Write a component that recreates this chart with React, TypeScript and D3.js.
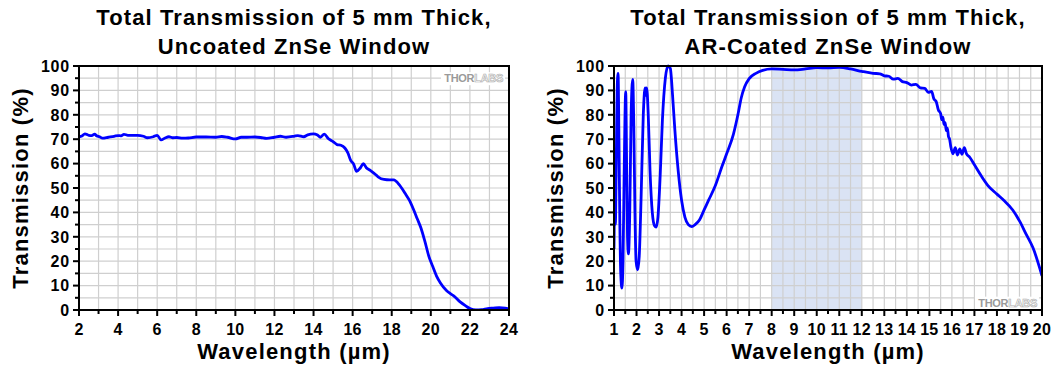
import React from 'react';
import * as d3 from 'd3';

// uncoated window
const uncoatedWavelength = [2, 2.15, 2.3, 2.5, 2.65, 2.8, 2.9, 3.05, 3.2, 3.5, 3.8, 4.0, 4.15, 4.3, 4.5, 5.0, 5.3, 5.5, 5.8, 6.0, 6.2, 6.4, 6.6, 6.8, 7.0, 7.3, 7.6, 8.0, 8.5, 9.0, 9.3, 9.6, 10.0, 10.3, 10.6, 11.0, 11.3, 11.6, 12.0, 12.3, 12.6, 13.0, 13.2, 13.5, 13.7, 14.0, 14.2, 14.35, 14.55, 14.75, 15.0, 15.2, 15.4, 15.6, 15.75, 15.9, 16.05, 16.2, 16.4, 16.55, 16.7, 16.9, 17.1, 17.3, 17.6, 17.9, 18.1, 18.4, 18.7, 18.9, 19.1, 19.3, 19.5, 19.7, 19.9, 20.1, 20.3, 20.5, 20.8, 21.0, 21.2, 21.5, 21.8, 22.0, 22.3, 22.6, 22.9, 23.2, 23.5, 23.8, 24];
const uncoatedTransmission = [71.0, 71.3, 72.2, 71.6, 71.5, 72.1, 71.4, 71.0, 70.4, 70.8, 71.2, 71.5, 71.4, 72.0, 71.6, 71.6, 71.2, 70.6, 71.0, 71.6, 69.7, 70.5, 71.0, 70.6, 70.7, 70.4, 70.5, 70.9, 70.9, 70.8, 71.1, 70.8, 70.1, 70.8, 70.8, 70.9, 70.7, 70.3, 70.8, 71.2, 70.8, 71.2, 71.5, 71.0, 71.8, 72.2, 71.7, 70.8, 72.1, 70.3, 69.0, 67.8, 67.5, 66.4, 64.5, 61.3, 59.8, 56.8, 58.3, 60.0, 58.3, 57.2, 56.0, 54.6, 53.5, 53.3, 53.3, 51.2, 47.6, 45.0, 41.5, 37.5, 33.5, 28.0, 22.0, 17.8, 13.8, 11.0, 8.0, 6.7, 5.6, 3.3, 1.6, 0.6, 0.0, 0.1, 0.6, 0.8, 1.0, 0.8, 0.4];

// AR-coated window
const coatedWavelength = [1.0, 1.03, 1.06, 1.1, 1.14, 1.18, 1.22, 1.26, 1.3, 1.35, 1.4, 1.45, 1.52, 1.56, 1.6, 1.64, 1.7, 1.76, 1.83, 1.88, 1.93, 1.98, 2.05, 2.12, 2.2, 2.3, 2.38, 2.42, 2.45, 2.52, 2.6, 2.7, 2.8, 2.87, 2.95, 3.05, 3.15, 3.28, 3.4, 3.5, 3.6, 3.7, 3.85, 4.0, 4.15, 4.3, 4.45, 4.6, 4.8, 5.0, 5.2, 5.5, 5.8, 6.0, 6.3, 6.5, 6.65, 6.8, 7.0, 7.3, 7.6, 8.0, 8.5, 9.0, 9.5, 10.0, 10.5, 11.0, 11.5, 12.0, 12.5, 12.8, 13.0, 13.2, 13.4, 13.6, 13.8, 14.0, 14.2, 14.4, 14.6, 14.8, 14.95, 15.1, 15.2, 15.3, 15.4, 15.5, 15.55, 15.6, 15.65, 15.7, 15.75, 15.8, 15.85, 15.9, 15.95, 16.05, 16.15, 16.25, 16.35, 16.45, 16.55, 16.65, 16.8, 17.0, 17.3, 17.6, 18.0, 18.3, 18.7, 19.0, 19.3, 19.6, 20.0];
const coatedTransmission = [25, 45, 35, 60, 90, 97, 70, 35, 15, 9, 20, 55, 89.5, 60, 30, 23, 40, 80, 94.5, 75, 40, 20, 16.5, 22, 45, 80, 91, 88, 91, 80, 57, 40, 34.5, 34, 38, 55, 78, 95, 100, 99, 88, 74, 57, 45, 38, 35, 34.2, 35, 37, 41, 45, 51, 59, 64, 72, 80, 87, 91.5, 94.8, 97, 98.2, 98.8, 98.6, 98.4, 98.8, 99.3, 99.2, 99.4, 98.8, 97.8, 97, 96.8, 96, 95.8, 94.6, 94.9, 93.6, 93.2, 92.2, 92.5, 91, 90.8, 89.2, 89.6, 86.5, 85.5, 82, 80.5, 78, 79, 76, 76.8, 73.5, 74.5, 71, 70, 67, 64, 66.5, 63.5, 66, 63.8, 66.5, 64, 62.5, 59.5, 55, 51, 47.5, 45, 41, 36.5, 31, 25.5, 14];

const yTicks = [0, 10, 20, 30, 40, 50, 60, 70, 80, 90, 100];
const uncoatedXTicks = [2, 4, 6, 8, 10, 12, 14, 16, 18, 20, 22, 24];
const coatedXTicks = [1, 2, 3, 4, 5, 6, 7, 8, 9, 10, 11, 12, 13, 14, 15, 16, 17, 18, 19, 20];
const designBand = [8, 12];

const FONT = '"Liberation Sans", Arial, sans-serif';
const TOP = 66;
const BOTTOM = 310;

type ChartProps = {
  id: string;
  left: number;
  right: number;
  title: string[];
  xDomain: [number, number];
  xTicks: number[];
  xMinorStep: number;
  xGridStep: number;
  xs: number[];
  ys: number[];
  band?: number[];
  logo: 'top' | 'bottom';
};

const Chart = ({ id, left, right, title, xDomain, xTicks, xMinorStep, xGridStep, xs, ys, band, logo }: ChartProps) => {
  const x = d3.scaleLinear().domain(xDomain).range([left, right]);
  const y = d3.scaleLinear().domain([0, 100]).range([BOTTOM, TOP]);
  const cx = (left + right) / 2;

  const xGrid = d3.range(xDomain[0], xDomain[1] + 1e-9, xGridStep);
  const xMinor = d3.range(xDomain[0], xDomain[1] + 1e-9, xMinorStep).filter(v => !xTicks.some(t => Math.abs(t - v) < 1e-6));
  const yGrid = d3.range(0, 100.001, 5);
  const yMinor = yGrid.filter(v => v % 10 !== 0);

  const line = d3.line<number>().x((_, i) => x(xs[i])).y(d => y(d)).curve(d3.curveMonotoneX);

  const logoX = logo === 'top' ? right - 6 : right - 5;
  const logoY = logo === 'top' ? y(95) + 4 : y(3) + 4;

  return (
    <g>
      <defs>
        <clipPath id={'clip-' + id}>
          <rect x={left} y={TOP - 2} width={right - left} height={BOTTOM - TOP + 2} />
        </clipPath>
      </defs>
      {title.map((t, i) => (
        <text key={t} x={cx} y={25 + i * 29} textAnchor="middle" fontFamily={FONT} fontWeight="bold" fontSize={22} letterSpacing={1.1}>{t}</text>
      ))}
      {band && (
        <rect x={x(band[0])} y={TOP} width={x(band[1]) - x(band[0])} height={BOTTOM - TOP} fill="#dae3f4" />
      )}
      {xGrid.map(v => (
        <line key={'gx' + v} x1={x(v)} x2={x(v)} y1={TOP} y2={BOTTOM} stroke="#cfcfcf" strokeWidth={1.2} />
      ))}
      {yGrid.map(v => (
        <line key={'gy' + v} x1={left} x2={right} y1={y(v)} y2={y(v)} stroke="#cfcfcf" strokeWidth={1.2} />
      ))}
      <rect x={logoX - 62} y={logoY - 10} width={64} height={13} fill="#fff" />
      <text x={logoX} y={logoY} textAnchor="end" fontFamily={FONT} fontWeight="bold" fontSize={11} letterSpacing={-0.3}>
        <tspan fill="#9a9a9a">THOR</tspan>
        <tspan fill="#fff" stroke="#b0b0b0" strokeWidth={0.7}>LABS</tspan>
      </text>
      <path d={line(ys) || ''} fill="none" stroke="#0000ff" strokeWidth={2.8} strokeLinejoin="round" clipPath={`url(#clip-${id})`} />
      <rect x={left} y={TOP} width={right - left} height={BOTTOM - TOP} fill="none" stroke="#000" strokeWidth={2} />
      {yTicks.map(v => (
        <g key={'yt' + v}>
          <line x1={left - 6} x2={left} y1={y(v)} y2={y(v)} stroke="#000" strokeWidth={2} />
          <text x={left - 9} y={y(v)} dy="0.36em" textAnchor="end" fontFamily={FONT} fontWeight="bold" fontSize={16} letterSpacing={0.8}>{v}</text>
        </g>
      ))}
      {yMinor.map(v => (
        <line key={'ym' + v} x1={left - 4} x2={left} y1={y(v)} y2={y(v)} stroke="#000" strokeWidth={2} />
      ))}
      {xTicks.map(v => (
        <g key={'xt' + v}>
          <line x1={x(v)} x2={x(v)} y1={BOTTOM} y2={BOTTOM + 6} stroke="#000" strokeWidth={2} />
          <text x={x(v)} y={BOTTOM + 25} textAnchor="middle" fontFamily={FONT} fontWeight="bold" fontSize={16} letterSpacing={0.3}>{v}</text>
        </g>
      ))}
      {xMinor.map(v => (
        <line key={'xm' + v} x1={x(v)} x2={x(v)} y1={BOTTOM} y2={BOTTOM + 4} stroke="#000" strokeWidth={2} />
      ))}
      <text x={cx} y={359} textAnchor="middle" fontFamily={FONT} fontWeight="bold" fontSize={22} letterSpacing={1.2}>Wavelength (µm)</text>
      <text transform={`translate(${left - 51},${(TOP + BOTTOM) / 2}) rotate(-90)`} textAnchor="middle" fontFamily={FONT} fontWeight="bold" fontSize={22} letterSpacing={1.2}>Transmission (%)</text>
    </g>
  );
};

export default function App() {
  return (
    <svg width={1064} height={370} style={{ position: 'absolute', left: 0, top: 0, background: '#fff' }}>
      <rect width={1064} height={370} fill="#fff" />
      <Chart
        id="uncoated"
        left={79}
        right={509}
        title={['Total Transmission of 5 mm Thick,', 'Uncoated ZnSe Window']}
        xDomain={[2, 24]}
        xTicks={uncoatedXTicks}
        xMinorStep={1}
        xGridStep={1}
        xs={uncoatedWavelength}
        ys={uncoatedTransmission}
        logo="top"
      />
      <Chart
        id="coated"
        left={614}
        right={1042}
        title={['Total Transmission of 5 mm Thick,', 'AR-Coated ZnSe Window']}
        xDomain={[1, 20]}
        xTicks={coatedXTicks}
        xMinorStep={0.5}
        xGridStep={0.5}
        xs={coatedWavelength}
        ys={coatedTransmission}
        band={designBand}
        logo="bottom"
      />
    </svg>
  );
}
